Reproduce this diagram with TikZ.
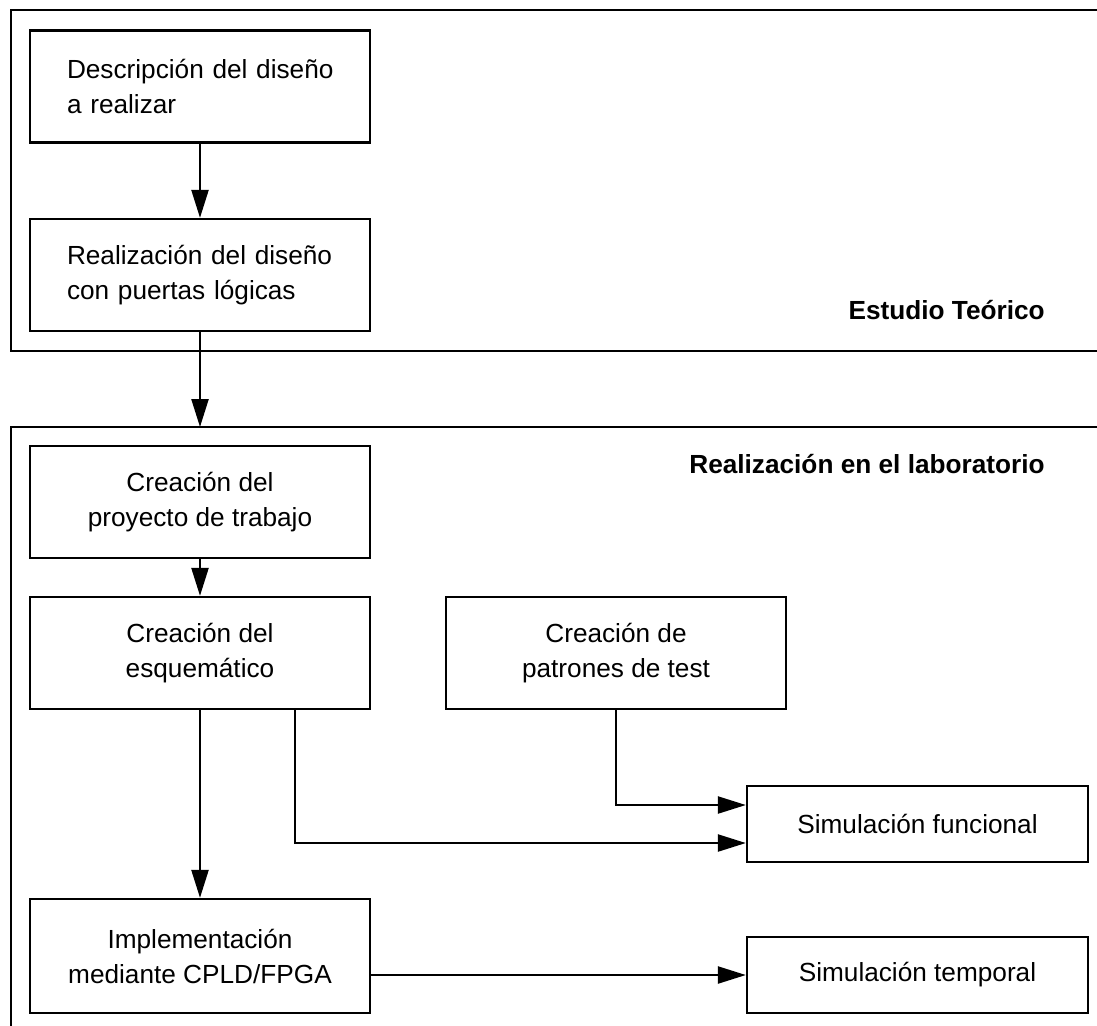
\documentclass[tikz,border=0pt]{standalone}
\usepackage{fontspec}
\setmainfont{Liberation Sans}
\usetikzlibrary{arrows.meta}
\begin{document}
\begin{tikzpicture}[x=0.5pt,y=-0.5pt,
  every node/.style={font=\fontsize{13.1}{17.5}\selectfont},
  box/.style={draw,line width=1.15pt,rectangle,minimum width=170pt,minimum height=56pt,inner sep=0pt,align=center},
  lbox/.style={draw,line width=1.15pt,rectangle,minimum height=56pt,text width=133pt,inner xsep=18.5pt,inner ysep=0pt,align=left},
  sbox/.style={draw,line width=1.15pt,rectangle,minimum width=170.5pt,minimum height=38pt,inner sep=0pt,align=center},
  frame/.style={line width=1.15pt},
  arr/.style={line width=1.15pt,-{Triangle[length=14pt,width=8.5pt]}},
  ttl/.style={font=\fontsize{13.1}{17.5}\selectfont\bfseries,anchor=east,inner sep=0pt}]
\useasboundingbox (0,0) rectangle (1097,1025);
% frames
\draw[frame] (1110,10) -- (11,10) -- (11,351) -- (1110,351);
\draw[frame] (1110,427) -- (11,427) -- (11,1040);
\coordinate (f2top) at (200,427);
% nodes
\node[lbox] (b1) at (200,86.5) {\mbox{Descripción del diseño}\\\mbox{a realizar}};
\node[lbox] (b2) at (200,275) {\mbox{Realización del diseño}\\\mbox{con puertas lógicas}};
\node[ttl] (t1) at (1045,310) {Estudio Teórico};
\node[ttl] (t2) at (1045,464) {Realización en el laboratorio};
\node[box] (b3) at (200,502) {Creación del\\proyecto de trabajo};
\node[box] (b4) at (200,653) {Creación del\\esquemático};
\node[box] (b5) at (616,653) {Creación de\\patrones de test};
\node[box,minimum height=57pt] (b6) at (200,956) {Implementación\\mediante CPLD/FPGA};
\node[sbox] (fun) at (917.5,824) {Simulación funcional};
\node[sbox] (tem) at (917.5,975) {Simulación temporal};
% connectors
\draw[arr] (b1) -- (b2);
\draw[arr] (b2.south) -- (f2top);
\draw[arr] (b3) -- (b4);
\draw[arr] (b4) -- (b6);
\draw[arr] (b5.south) |- ([yshift=9.5pt]fun.west);
\draw[arr] ([xshift=47.5pt]b4.south) |- ([yshift=-9.5pt]fun.west);
\draw[arr] (tem.west -| b6.east) -- (tem.west);
\end{tikzpicture}
\end{document}
